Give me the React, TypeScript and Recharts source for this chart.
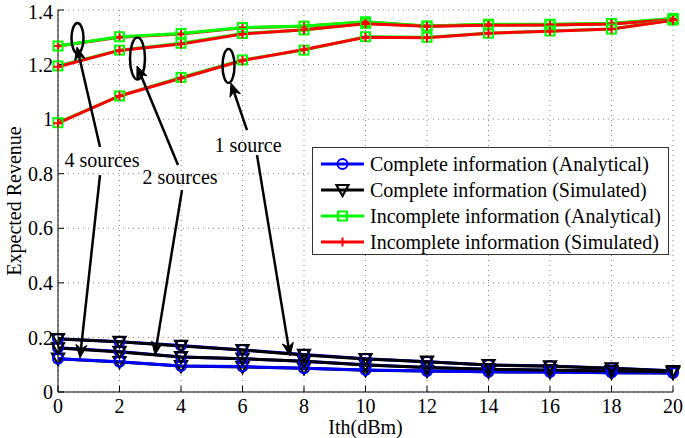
import {
  LineChart,
  Line,
  XAxis,
  YAxis,
  CartesianGrid,
  Legend,
  ReferenceLine,
  ReferenceDot,
} from "recharts";

// Ith (dBm) on the x axis
const ITH = [0, 2, 4, 6, 8, 10, 12, 14, 16, 18, 20];

// incomplete information, 1 / 2 / 4 sources
const INC_ANA_1 = [0.987, 1.085, 1.153, 1.217, 1.253, 1.302, 1.3, 1.315, 1.323, 1.33, 1.363];
const INC_SIM_1 = [0.985, 1.085, 1.15, 1.215, 1.255, 1.3, 1.298, 1.315, 1.322, 1.33, 1.362];
const INC_ANA_2 = [1.195, 1.253, 1.278, 1.314, 1.327, 1.351, 1.341, 1.345, 1.345, 1.35, 1.365];
const INC_SIM_2 = [1.192, 1.252, 1.275, 1.312, 1.328, 1.35, 1.34, 1.344, 1.345, 1.349, 1.364];
const INC_ANA_4 = [1.268, 1.302, 1.314, 1.336, 1.341, 1.357, 1.341, 1.348, 1.348, 1.351, 1.369];
const INC_SIM_4 = [1.268, 1.3, 1.312, 1.335, 1.34, 1.356, 1.34, 1.347, 1.347, 1.35, 1.368];

// complete information, 1 / 2 / 4 sources
const COMP_ANA_1 = [0.195, 0.184, 0.17, 0.154, 0.137, 0.122, 0.111, 0.099, 0.095, 0.087, 0.078];
const COMP_SIM_1 = [0.194, 0.184, 0.169, 0.154, 0.136, 0.121, 0.111, 0.099, 0.094, 0.087, 0.077];
const COMP_ANA_2 = [0.162, 0.148, 0.128, 0.122, 0.113, 0.1, 0.09, 0.083, 0.08, 0.077, 0.074];
const COMP_SIM_2 = [0.161, 0.147, 0.128, 0.122, 0.113, 0.099, 0.09, 0.083, 0.08, 0.077, 0.074];
const COMP_ANA_4 = [0.122, 0.111, 0.095, 0.093, 0.087, 0.081, 0.077, 0.074, 0.073, 0.071, 0.07];
const COMP_SIM_4 = [0.122, 0.11, 0.095, 0.092, 0.087, 0.08, 0.077, 0.074, 0.073, 0.071, 0.07];

const X_TICKS = [0, 2, 4, 6, 8, 10, 12, 14, 16, 18, 20];
const Y_TICKS = [0, 0.2, 0.4, 0.6, 0.8, 1, 1.2, 1.4];

const LEGEND_LABELS = [
  "Complete information (Analytical)",
  "Complete information (Simulated)",
  "Incomplete information (Analytical)",
  "Incomplete information (Simulated)",
];

// annotations, in data units
const GROUP_TEXT = [
  { text: "4 sources", x: 1.43, y: 0.85 },
  { text: "2 sources", x: 3.97, y: 0.788 },
  { text: "1 source", x: 6.18, y: 0.905 },
];
const GROUP_RINGS = [
  { x: 0.634, y: 1.297 },
  { x: 2.585, y: 1.222 },
  { x: 5.545, y: 1.195 },
];
const GROUP_ARROWS = [
  [{ x: 1.366, y: 0.898 }, { x: 0.618, y: 1.264 }],
  [{ x: 1.366, y: 0.795 }, { x: 0.715, y: 0.125 }],
  [{ x: 3.902, y: 0.832 }, { x: 2.569, y: 1.195 }],
  [{ x: 4.033, y: 0.74 }, { x: 3.154, y: 0.136 }],
  [{ x: 6.146, y: 0.96 }, { x: 5.626, y: 1.132 }],
  [{ x: 6.472, y: 0.868 }, { x: 7.545, y: 0.132 }],
];

const rows = ITH.map((ith, i) => ({
  ith,
  incAna1: INC_ANA_1[i],
  incSim1: INC_SIM_1[i],
  incAna2: INC_ANA_2[i],
  incSim2: INC_SIM_2[i],
  incAna4: INC_ANA_4[i],
  incSim4: INC_SIM_4[i],
  compAna1: COMP_ANA_1[i],
  compSim1: COMP_SIM_1[i],
  compAna2: COMP_ANA_2[i],
  compSim2: COMP_SIM_2[i],
  compAna4: COMP_ANA_4[i],
  compSim4: COMP_SIM_4[i],
}));

const FONT = '"Liberation Serif", "Times New Roman", Times, serif';
const BLUE = "#0000ff";
const BLACK = "#000000";
const GREEN = "#00ff00";
const RED = "#ff0000";
const RING_SIZE = [
  [6, 15],
  [7.5, 21],
  [6, 17],
];

type Mk = "circle" | "tri" | "square" | "plus";

const markerAt = (kind: Mk, cx: number, cy: number, color: string, key?: any) => {
  if (kind === "circle")
    return <circle key={key} cx={cx} cy={cy} r={5} fill="none" stroke={color} strokeWidth={2} />;
  if (kind === "tri")
    return (
      <polygon
        key={key}
        points={`${cx - 6},${cy - 5} ${cx + 6},${cy - 5} ${cx},${cy + 6}`}
        fill="none"
        stroke={color}
        strokeWidth={2.2}
      />
    );
  if (kind === "square")
    return (
      <rect key={key} x={cx - 4.5} y={cy - 4.5} width={9} height={9} fill="none" stroke={color} strokeWidth={2} />
    );
  return (
    <path key={key} d={`M${cx - 4.5},${cy}H${cx + 4.5}M${cx},${cy - 4.5}V${cy + 4.5}`} stroke={color} strokeWidth={2} />
  );
};

const dotFn = (kind: Mk, color: string) => (p: any) => {
  if (p.cx == null || p.cy == null) return <g key={p.key} />;
  return markerAt(kind, p.cx, p.cy, color, p.key);
};

// drawing order matters: for 4 sources the simulated curve sits under the analytical one
const SERIES: { key: string; color: string; mk: Mk }[] = [
  { key: "compSim4", color: BLACK, mk: "tri" },
  { key: "compAna4", color: BLUE, mk: "circle" },
  { key: "compAna2", color: BLUE, mk: "circle" },
  { key: "compSim2", color: BLACK, mk: "tri" },
  { key: "compAna1", color: BLUE, mk: "circle" },
  { key: "compSim1", color: BLACK, mk: "tri" },
  { key: "incSim4", color: RED, mk: "plus" },
  { key: "incAna4", color: GREEN, mk: "square" },
  { key: "incAna2", color: GREEN, mk: "square" },
  { key: "incSim2", color: RED, mk: "plus" },
  { key: "incAna1", color: GREEN, mk: "square" },
  { key: "incSim1", color: RED, mk: "plus" },
];

const LEGEND_STYLE: { color: string; mk: Mk }[] = [
  { color: BLUE, mk: "circle" },
  { color: BLACK, mk: "tri" },
  { color: GREEN, mk: "square" },
  { color: RED, mk: "plus" },
];

const renderLegend = () => (
  <div
    style={{
      border: "1px solid #333",
      background: "#fff",
      boxSizing: "border-box",
      width: 357,
      height: 108,
      paddingTop: 3,
      fontFamily: FONT,
      fontSize: 20,
      color: "#000",
    }}
  >
    {LEGEND_LABELS.map((lab, i) => (
      <div key={lab} style={{ display: "flex", alignItems: "center", height: 26, whiteSpace: "nowrap" }}>
        <svg width={56} height={16} style={{ flex: "none" }}>
          <line x1={8} y1={8} x2={51} y2={8} stroke={LEGEND_STYLE[i].color} strokeWidth={3} />
          {markerAt(LEGEND_STYLE[i].mk, 29.5, 8, LEGEND_STYLE[i].color)}
        </svg>
        <span style={{ marginLeft: 1 }}>{lab}</span>
      </div>
    ))}
  </div>
);

const arrowShape = (p: any) => {
  const { x1, y1, x2, y2 } = p;
  if ([x1, y1, x2, y2].some((v) => v == null || isNaN(v))) return <g />;
  const dx = x2 - x1;
  const dy = y2 - y1;
  const len = Math.hypot(dx, dy) || 1;
  const ux = dx / len;
  const uy = dy / len;
  const L = 13;
  const W = 5.5;
  const bx = x2 - ux * L;
  const by = y2 - uy * L;
  const nx = -uy;
  const ny = ux;
  const kx = x2 - ux * L * 0.7;
  const ky = y2 - uy * L * 0.7;
  return (
    <g>
      <line x1={x1} y1={y1} x2={kx} y2={ky} stroke="#000" strokeWidth={2.5} />
      <polygon
        points={`${x2},${y2} ${bx + nx * W},${by + ny * W} ${kx},${ky} ${bx - nx * W},${by - ny * W}`}
        fill="#000"
        stroke="#000"
        strokeWidth={1}
      />
    </g>
  );
};

const renderYLabel = (p: any) => {
  const vb = p.viewBox || { x: 0, y: 10, width: 58, height: 382 };
  const cx = vb.x + 14;
  const cy = vb.y + vb.height / 2;
  return (
    <text
      x={cx}
      y={cy}
      transform={`rotate(-90, ${cx}, ${cy})`}
      textAnchor="middle"
      dominantBaseline="central"
      fontFamily={FONT}
      fontSize={20}
      fill="#000"
    >
      Expected Revenue
    </text>
  );
};

const renderXLabel = (p: any) => {
  const vb = p.viewBox || { x: 58, y: 392, width: 615, height: 46 };
  return (
    <text
      x={vb.x + vb.width / 2}
      y={vb.y + 35}
      textAnchor="middle"
      dominantBaseline="central"
      fontFamily={FONT}
      fontSize={20}
      fill="#000"
    >
      Ith(dBm)
    </text>
  );
};

const tickStyle = { fontSize: 20, fill: "#000", fontFamily: FONT };

export default function App() {
  return (
    <div style={{ position: "absolute", left: 0, top: 0, width: 685, height: 438, background: "#fff" }}>
      <LineChart width={685} height={438} data={rows} margin={{ top: 10, right: 12, bottom: 0, left: 0 }}>
        <CartesianGrid strokeDasharray="1 4" stroke="#8a8a8a" strokeWidth={1} />
        <XAxis
          dataKey="ith"
          type="number"
          domain={[0, 20]}
          ticks={X_TICKS}
          height={46}
          stroke="#000"
          tickSize={-6}
          tickMargin={13}
          tick={tickStyle}
          label={renderXLabel}
        />
        <XAxis
          xAxisId="top"
          orientation="top"
          dataKey="ith"
          type="number"
          domain={[0, 20]}
          ticks={X_TICKS}
          height={0}
          stroke="#000"
          tickSize={-6}
          tick={false}
        />
        <YAxis
          type="number"
          domain={[0, 1.4]}
          ticks={Y_TICKS}
          width={58}
          stroke="#000"
          tickSize={-6}
          tickMargin={11}
          tick={tickStyle}
          label={renderYLabel}
        />
        <YAxis
          yAxisId="right"
          orientation="right"
          type="number"
          domain={[0, 1.4]}
          ticks={Y_TICKS}
          width={0}
          stroke="#000"
          tickSize={-6}
          tick={false}
        />
        {SERIES.map((s) => (
          <Line
            key={s.key}
            dataKey={s.key}
            stroke={s.color}
            strokeWidth={3}
            dot={dotFn(s.mk, s.color)}
            activeDot={false}
            legendType="none"
            isAnimationActive={false}
          />
        ))}
        {GROUP_RINGS.map((r, i) => (
          <ReferenceDot
            key={`ring${i}`}
            x={r.x}
            y={r.y}
            r={1}
            shape={(p: any) => (
              <ellipse
                cx={p.cx}
                cy={p.cy}
                rx={RING_SIZE[i][0]}
                ry={RING_SIZE[i][1]}
                fill="none"
                stroke="#000"
                strokeWidth={2.5}
              />
            )}
          />
        ))}
        {GROUP_ARROWS.map((seg, i) => (
          <ReferenceLine key={`arr${i}`} segment={seg} shape={arrowShape} />
        ))}
        {GROUP_TEXT.map((t) => (
          <ReferenceDot
            key={t.text}
            x={t.x}
            y={t.y}
            r={1}
            shape={(p: any) => (
              <text
                x={p.cx}
                y={p.cy}
                textAnchor="middle"
                dominantBaseline="central"
                fontFamily={FONT}
                fontSize={20}
                fill="#000"
              >
                {t.text}
              </text>
            )}
          />
        ))}
        <Legend
          layout="vertical"
          align="center"
          verticalAlign="middle"
          content={renderLegend}
          wrapperStyle={{ left: 312, top: 147, width: 357, height: 108 }}
        />
      </LineChart>
    </div>
  );
}
